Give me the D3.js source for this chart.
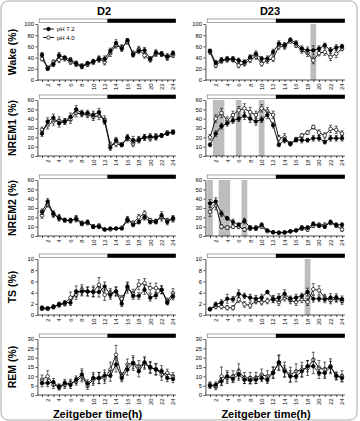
<!DOCTYPE html>
<html><head><meta charset="utf-8">
<script src="https://cdn.jsdelivr.net/npm/d3@7"></script>
<style>body{margin:0;background:#fff}svg{display:block;font-family:"Liberation Sans",Arial,sans-serif}</style>
</head><body><svg id="c" width="360" height="421"></svg>
<script>
const hours = [1,2,3,4,5,6,7,8,9,10,11,12,13,14,15,16,17,18,19,20,21,22,23,24];
const xTickLabels = [2,4,6,8,10,12,14,16,18,20,22,24];
const seriesNames = ["pH 7.2","pH 4.0"];
const columnTitles = ["D2","D23"];
const rowLabels = ["Wake (%)","NREM1 (%)","NREM2 (%)","TS (%)","REM (%)"];
const wakeTicks = [0,20,40,60,80,100];
const nrem1Ticks = [0,10,20,30,40,50,60];
const nrem2Ticks = [0,10,20,30,40,50,60];
const tsTicks = [0,2,4,6,8,10];
const remTicks = [0,5,10,15,20,25,30];

// Wake
const wakeD2_72 = [45,20,28,44,40,36,30,25,30,33,37,38,52,66,56,71,45,52,53,38,49,47,42,48];
const wakeD2_72se = [4,3,4,5,3,4,4,4,3,4,5,5,5,6,5,3,4,5,5,4,5,4,5,4];
const wakeD2_40 = [38,22,32,36,38,32,28,24,28,32,38,32,48,62,58,68,47,55,44,36,47,46,40,44];
const wakeD2_40se = [4,3,4,5,4,4,4,4,4,4,5,5,6,5,5,4,5,5,5,4,5,4,5,4];
const wakeD23_72 = [52,31,36,38,38,35,32,41,47,38,38,50,65,62,72,66,56,53,53,56,62,53,58,60];
const wakeD23_72se = [3,4,4,4,4,4,4,4,5,4,5,5,5,5,3,4,5,6,8,5,4,5,5,4];
const wakeD23_40 = [50,26,34,36,36,26,29,36,42,29,35,38,60,60,69,62,53,48,35,48,50,41,47,56];
const wakeD23_40se = [4,4,4,4,4,4,4,5,5,4,5,5,5,5,3,4,5,6,6,5,6,6,7,4];
const wakeD23_sig = [[18.5,19.5]];
// NREM1
const nrem1D2_72 = [24,37,41,35,37,42,50,46,46,44,47,37,9,17,12,20,17,17,20,21,20,22,24,26];
const nrem1D2_72se = [3,4,4,4,3,4,4,3,3,4,4,3,3,3,2,3,4,3,3,3,3,2,2,2];
const nrem1D2_40 = [28,33,37,38,37,39,46,45,44,42,43,39,12,13,12,19,13,18,20,19,21,22,25,25];
const nrem1D2_40se = [3,4,4,4,3,4,4,3,3,4,4,4,3,3,2,3,3,3,3,3,3,2,2,2];
const nrem1D23_72 = [12,24,32,35,38,40,43,40,37,39,44,33,12,17,13,17,17,17,19,19,15,19,19,19];
const nrem1D23_72se = [2,3,3,3,3,3,4,4,4,3,4,3,2,3,2,2,3,2,3,3,2,3,3,3];
const nrem1D23_40 = [20,40,46,38,44,49,51,47,44,51,48,44,19,20,13,18,22,25,31,25,22,29,28,24];
const nrem1D23_40se = [3,4,5,4,4,4,5,5,4,4,4,4,3,4,2,2,2,2,2,3,3,4,4,3];
const nrem1D23_sig = [[1.5,3.5],[5.5,6.5],[9.5,10.5]];
// NREM2
const nrem2D2_72 = [26,37,24,19,17,17,18,13,15,10,10,7,8,8,8,17,12,15,20,15,15,22,15,19];
const nrem2D2_72se = [3,3,3,3,2,2,3,2,2,2,2,1,1,1,1,3,2,2,3,2,2,4,3,3];
const nrem2D2_40 = [22,34,23,20,17,16,19,14,14,10,11,7,7,8,9,18,14,20,24,17,16,20,17,18];
const nrem2D2_40se = [3,3,3,3,2,2,3,2,2,2,2,1,1,1,1,3,2,3,3,2,2,4,2,3];
const nrem2D23_72 = [35,37,24,19,15,12,16,9,8,12,6,4,3.5,4,5,6,9,9,13,11,10,15,12,12];
const nrem2D23_72se = [4,4,3,2,3,2,3,2,2,2,1,1,1,1,1,1,2,2,2,2,2,2,2,2];
const nrem2D23_40 = [26,33,10,9,10,10,7,8,9,10,5,4,3.5,3.5,5,6,8,7,11,12,12,14,11,7];
const nrem2D23_40se = [5,5,2,2,2,2,2,2,2,2,1,1,1,1,1,1,2,2,2,2,2,2,2,2];
const nrem2D23_sig = [[0.5,1.5],[2.5,4.5],[6.5,7.5]];
// TS
const tsD2_72 = [1.3,1.2,1.4,1.9,2.2,2.2,4.2,4.2,4.2,4.1,4.1,5.1,3.6,4.2,2.0,5.1,3.4,3.4,4.5,3.1,3.5,4.5,2.2,3.3];
const tsD2_72se = [0.3,0.2,0.3,0.4,0.4,0.5,1.0,0.8,0.8,0.8,0.9,0.8,0.8,0.8,0.5,0.8,0.6,0.6,0.8,0.6,0.6,0.7,0.4,0.6];
const tsD2_40 = [1.1,1.1,1.5,1.8,2.0,3.1,3.6,4.5,4.2,4.2,5.4,3.6,3.9,4.2,2.9,4.8,3.9,5.4,5.7,4.8,4.8,4.5,2.5,3.9];
const tsD2_40se = [0.3,0.2,0.3,0.4,0.4,1.0,0.8,0.9,0.8,1.0,1.3,1.0,0.8,0.8,0.6,0.9,0.7,0.9,0.8,0.9,0.9,0.7,0.5,0.8];
const tsD23_72 = [1.0,1.9,2.2,2.9,2.8,3.8,3.4,3.1,2.9,3.1,4.1,2.8,3.1,3.8,2.9,3.1,3.4,4.1,2.9,2.9,2.8,3.1,3.1,2.8];
const tsD23_72se = [0.2,0.4,0.5,0.8,0.5,0.7,0.5,0.6,0.6,0.6,0.3,0.6,0.7,0.7,0.5,0.6,0.5,0.7,0.6,0.5,0.6,0.7,0.7,0.6];
const tsD23_40 = [1.1,1.5,1.5,1.3,1.3,2.8,1.9,1.7,2.5,2.3,2.5,2.9,2.3,3.1,2.6,2.3,2.8,2.3,4.6,4.4,3.1,2.6,2.9,2.5];
const tsD23_40se = [0.2,0.4,0.4,0.4,0.4,0.6,0.5,0.5,0.5,0.5,0.5,0.6,0.6,0.6,0.6,0.6,0.6,0.6,1.0,0.8,0.6,0.6,0.6,0.6];
const tsD23_sig = [[17.5,18.5]];
// REM
const remD2_72 = [6.4,6.4,6.8,4.3,6.4,5.5,8.2,11,6.1,9.1,9.1,10.4,10.4,16.3,9.1,13.6,17.1,12.7,17.5,15,13.6,12.7,9.1,8.6];
const remD2_72se = [2,2,2,1.5,2,2,2,3,2,3,3,3,3,4,2,3,3,3,3,3,3,3,2,2];
const remD2_40 = [8.2,10,5.5,4.3,5.5,6.4,7.3,10,5,8.2,9.1,9.1,13.6,21.6,10,16.3,17.1,15.4,16.8,14.5,13.9,10.9,11.8,10];
const remD2_40se = [2.5,3,2,1.5,2,2,2,3,2,3,3,3,4,5,2,3,4,3,3,3,3,3,2,2];
const remD23_72 = [5,5.5,7.3,10,8.6,10.9,8.2,7.9,8.2,9.1,8.2,11.8,17.5,12.7,10,10,12.7,15.4,15.4,11.8,11.8,15,10.4,9.1];
const remD23_72se = [1.5,1.5,2,3,2,3,2,2,2,2,2,3,4,3,3,3,3,3,4,3,3,3,2,2];
const remD23_40 = [5.5,4.3,10,9.1,10,12.7,9.1,9.1,9.1,10.9,10,12.1,17.1,13.6,10.9,12.7,13.6,14.5,18.9,14.5,13.6,15.4,10,10];
const remD23_40se = [1.5,1.5,5,3,3,4,3,3,3,3,3,3,4,4,4,4,4,4,4,4,4,4,2,3];
const noSig = [];

const rowsCfg = [
  {ticks:wakeTicks, top:24, d2:[wakeD2_72,wakeD2_72se,wakeD2_40,wakeD2_40se,noSig], d23:[wakeD23_72,wakeD23_72se,wakeD23_40,wakeD23_40se,wakeD23_sig]},
  {ticks:nrem1Ticks, top:100, d2:[nrem1D2_72,nrem1D2_72se,nrem1D2_40,nrem1D2_40se,noSig], d23:[nrem1D23_72,nrem1D23_72se,nrem1D23_40,nrem1D23_40se,nrem1D23_sig]},
  {ticks:nrem2Ticks, top:180, d2:[nrem2D2_72,nrem2D2_72se,nrem2D2_40,nrem2D2_40se,noSig], d23:[nrem2D23_72,nrem2D23_72se,nrem2D23_40,nrem2D23_40se,nrem2D23_sig]},
  {ticks:tsTicks, top:259, d2:[tsD2_72,tsD2_72se,tsD2_40,tsD2_40se,noSig], d23:[tsD23_72,tsD23_72se,tsD23_40,tsD23_40se,tsD23_sig]},
  {ticks:remTicks, top:339, d2:[remD2_72,remD2_72se,remD2_40,remD2_40se,noSig], d23:[remD23_72,remD23_72se,remD23_40,remD23_40se,noSig]}
];
const colsCfg = [{x1:42, x24:173, key:"d2", titleX:104}, {x1:210, x24:342, key:"d23", titleX:270}];
const plotH = 56;

const svg = d3.select("#c");
svg.append("rect").attr("x",1).attr("y",1).attr("width",356).attr("height",419).attr("rx",7)
  .attr("fill","none").attr("stroke","#a8a8a8").attr("stroke-width",1);

colsCfg.forEach((col, ci) => {
  svg.append("text").attr("x",col.titleX).attr("y",15).attr("text-anchor","middle")
    .attr("font-size",11).attr("font-weight","bold").text(columnTitles[ci]);
  const x = d3.scaleLinear().domain([1,24]).range([col.x1, col.x24]);
  rowsCfg.forEach((row, ri) => {
    const [s72, s72se, s40, s40se, sig] = row[col.key];
    const ymax = row.ticks[row.ticks.length-1];
    const y = d3.scaleLinear().domain([0,ymax]).range([row.top+plotH, row.top]);
    const g = svg.append("g");
    g.selectAll(".sig").data(sig).join("rect")
      .attr("x", d=>x(d[0])).attr("width", d=>x(d[1])-x(d[0]))
      .attr("y", y(ymax)).attr("height", y(0)-y(ymax)).attr("fill","#bdbdbd");
    g.append("rect").attr("x",x(0.5)).attr("y",row.top-5).attr("width",x(12.5)-x(0.5)).attr("height",3.5)
      .attr("fill","#fff").attr("stroke","#666").attr("stroke-width",0.6);
    g.append("rect").attr("x",x(12.5)).attr("y",row.top-5.3).attr("width",x(24.5)-x(12.5)).attr("height",4.1)
      .attr("fill","#000");
    const ya = g.append("g").attr("transform",`translate(${x(0.2)},0)`)
      .call(d3.axisLeft(y).tickValues(row.ticks).tickSize(2).tickSizeOuter(0).tickPadding(1.5));
    ya.selectAll("text").attr("font-size",5.8).attr("font-family","Liberation Sans, Arial");
    ya.selectAll("line,path").attr("stroke","#000").attr("stroke-width",0.7);
    const xa = g.append("g").attr("transform",`translate(0,${y(0)})`)
      .call(d3.axisBottom(x).tickValues(hours).tickSize(2).tickSizeOuter(0).tickFormat(d => xTickLabels.includes(d) ? d : ""));
    xa.select(".domain").attr("d", `M${x(0.2)},0H${x(24.5)}`);
    xa.selectAll("line,path").attr("stroke","#000").attr("stroke-width",0.7);
    xa.selectAll("text").attr("font-size",5.8).attr("font-family","Liberation Sans, Arial")
      .attr("transform","rotate(-90)").attr("text-anchor","end").attr("dy","0.32em").attr("x",-3.5).attr("y",0);
    const series = [{v:s40, se:s40se, open:true}, {v:s72, se:s72se, open:false}];
    series.forEach(s => {
      const pts = hours.map((h,i)=>({h, v:s.v[i], e:s.se[i]}));
      const eg = g.append("g").attr("stroke","#000").attr("stroke-width",0.6);
      pts.forEach(p => {
        const lo = y(Math.max(0,p.v-p.e)), hi = y(p.v+p.e);
        eg.append("line").attr("x1",x(p.h)).attr("x2",x(p.h)).attr("y1",lo).attr("y2",hi);
        eg.append("line").attr("x1",x(p.h)-1.5).attr("x2",x(p.h)+1.5).attr("y1",hi).attr("y2",hi);
        eg.append("line").attr("x1",x(p.h)-1.5).attr("x2",x(p.h)+1.5).attr("y1",lo).attr("y2",lo);
      });
      g.append("path").datum(pts).attr("fill","none").attr("stroke","#000").attr("stroke-width",0.9)
        .attr("d", d3.line().x(d=>x(d.h)).y(d=>y(d.v)));
      g.selectAll(null).data(pts).join("circle").attr("cx",d=>x(d.h)).attr("cy",d=>y(d.v)).attr("r",1.8)
        .attr("fill", s.open ? "#fff" : "#000").attr("stroke","#000").attr("stroke-width",0.7);
    });
    if (ci === 0) {
      svg.append("text").attr("transform",`translate(16,${row.top+plotH/2}) rotate(-90)`)
        .attr("text-anchor","middle").attr("font-size",10.5).attr("font-weight","bold").text(rowLabels[ri]);
    }
    if (ci === 0 && ri === 0) {
      seriesNames.forEach((nm, k) => {
        const ly = 29 + k*8.5;
        svg.append("line").attr("x1",43).attr("x2",54).attr("y1",ly).attr("y2",ly).attr("stroke","#000").attr("stroke-width",0.9);
        svg.append("circle").attr("cx",48.5).attr("cy",ly).attr("r",1.8).attr("fill", k===0?"#000":"#fff").attr("stroke","#000").attr("stroke-width",0.7);
        svg.append("text").attr("x",57).attr("y",ly+2).attr("font-size",6).text(nm);
      });
    }
  });
  svg.append("text").attr("x", (col.x1+col.x24)/2 - 10).attr("y",418).attr("text-anchor","middle")
    .attr("font-size",11).attr("font-weight","bold").text("Zeitgeber time(h)");
});
</script></body></html>
